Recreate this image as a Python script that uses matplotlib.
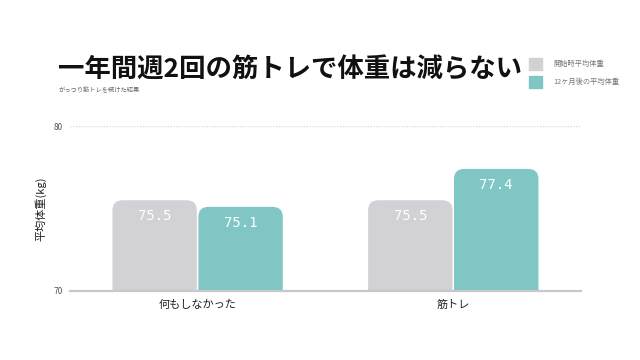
import numpy as np
import matplotlib
matplotlib.use('Agg')
import matplotlib.pyplot as plt
from matplotlib.patches import FancyBboxPatch

plt.rcParams['font.family'] = ['Noto Sans CJK JP', 'DejaVu Sans']

categories = ['何もしなかった', '筋トレ']
series_names = ['開始時平均体重', '12ヶ月後の平均体重']
before = [75.5, 75.5]
after = [75.1, 77.4]
colors = ['#d1d1d6', '#7fc6c4']

fig = plt.figure(figsize=(6.4, 3.6), dpi=100)
ax = fig.add_axes([0.109, 0.1917, 0.799, 0.4583])

x = np.arange(len(categories))
w = 0.33
bars1 = ax.bar(x - 0.168, before, width=w, bottom=0, color=colors[0])
bars2 = ax.bar(x + 0.168, after, width=w, bottom=0, color=colors[1])

ax.set_xlim(-0.5, 1.5)
ax.set_ylim(70, 80)

# swap plain bars for rounded-top ones
for bars, col in [(bars1, colors[0]), (bars2, colors[1])]:
    for b in bars:
        bx, bw, bh = b.get_x(), b.get_width(), b.get_height()
        b.remove()
        p = FancyBboxPatch((bx, 68), bw, bh - 68,
                           boxstyle='round,pad=0,rounding_size=0.04',
                           mutation_aspect=15, facecolor=col,
                           edgecolor='none', zorder=2, clip_on=True)
        ax.add_patch(p)
        ax.text(bx + bw / 2, bh - 0.95, f'{bh:.1f}', ha='center', va='center',
                color='white', fontsize=10, family='DejaVu Sans Mono', zorder=3)

ax.set_yticks([70, 80])
ax.set_yticklabels(['70', '80'], fontsize=6, color='#555555')
ax.set_xticks(x)
ax.set_xticklabels(categories, fontsize=8, color='#222222')
ax.tick_params(axis='both', length=0)
ax.tick_params(axis='y', pad=5)
ax.tick_params(axis='x', pad=6)
ax.axhline(80, color='#dddddd', lw=1, ls=(0, (1, 1)), zorder=1)
for s in ['top', 'right', 'left']:
    ax.spines[s].set_visible(False)
ax.spines['bottom'].set_color('#c8c8c8')
ax.spines['bottom'].set_linewidth(1.6)
ax.set_ylabel('平均体重(kg)', fontsize=8, color='#222222', labelpad=5)

fig.text(0.091, 0.805, '一年間週2回の筋トレで体重は減らない', fontsize=19,
         fontweight='bold', color='#111111', va='center', ha='left')
fig.text(0.091, 0.748, 'がっつり筋トレを続けた結果', fontsize=4.5,
         color='#666666', va='center', ha='left')

# legend
sq = [(0.826, 0.822), (0.826, 0.772)]
for (lx, ly), col, name in zip(sq, colors, series_names):
    fig.patches.append(plt.Rectangle((lx, ly - 0.017), 0.021, 0.034,
                                     transform=fig.transFigure, color=col))
    fig.text(0.864, ly, name, fontsize=5.2, color='#777777', va='center')

fig.savefig('out.png', dpi=100)
